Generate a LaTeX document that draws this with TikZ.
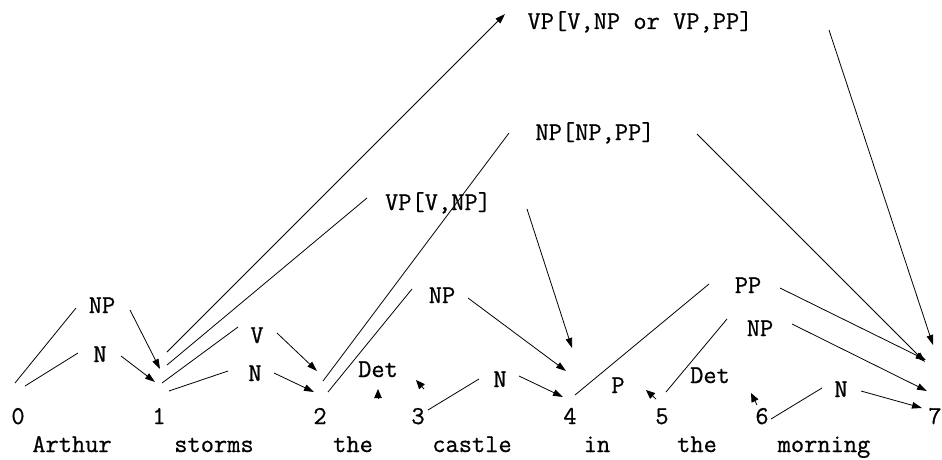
\documentclass[tikz,border=0pt]{standalone}
\usepackage{fontspec}
\setmonofont[FakeBold=0.7]{Latin Modern Mono}
\usetikzlibrary{arrows.meta}
\begin{document}
\begin{tikzpicture}[x=1pt,y=-1pt,
  lab/.style={anchor=base,inner sep=0pt,font=\ttfamily\fontsize{25.7}{30}\selectfont},
  ln/.style={line width=0.8pt},
  arr/.style={line width=0.8pt,-{Triangle[length=10pt,width=6.5pt]}},
  tip/.style={line width=0.8pt,-{Triangle[length=9pt,width=7.5pt]}}]
\useasboundingbox (0,0) rectangle (942,460);
% positions
\node[lab] (n0) at (18,424) {0};
\node[lab] (n1) at (159,424) {1};
\node[lab] (n2) at (320,424) {2};
\node[lab] (n3) at (418,424) {3};
\node[lab] (n4) at (570,424) {4};
\node[lab] (n5) at (662,424) {5};
\node[lab] (n6) at (762,424) {6};
\node[lab] (n7) at (935,424) {7};
\node[lab] (w1) at (72,452) {Arthur};
\node[lab] (w2) at (214,452) {storms};
\node[lab] (w3) at (353,452) {the};
\node[lab] (w4) at (472,452) {castle};
\node[lab] (w5) at (597,452) {in};
\node[lab] (w6) at (697,452) {the};
\node[lab] (w7) at (824,452) {morning};
% labels
\node[lab] (NPa) at (102,313) {NP};
\node[lab] (Na) at (100,362) {N};
\node[lab] (V) at (257,343) {V};
\node[lab] (Nb) at (255,381) {N};
\node[lab] (VPvnp) at (438,210) {VP[V,NP]};
\node[lab] (NPnppp) at (595,140) {NP[NP,PP]};
\node[lab] (VPtop) at (640,29) {VP[V,NP or VP,PP]};
\node[lab] (NPc) at (442,303) {NP};
\node[lab] (Det1) at (378,377) {Det};
\node[lab] (N3) at (500,387) {N};
\node[lab] (P) at (618,393) {P};
\node[lab] (PP) at (748,293) {PP};
\node[lab] (NPd) at (760,336) {NP};
\node[lab] (Det2) at (710,383) {Det};
\node[lab] (N6) at (841,397) {N};
% edges 0-1
\draw[ln] ([shift={(-3,-41)}]n0.base) -- ([shift={(-26,-5)}]NPa.base);
\draw[arr] ([shift={(28,-3)}]NPa.base) -- ([shift={(1,-55)}]n1.base);
\draw[ln] ([shift={(7,-38)}]n0.base) -- ([shift={(-22,-9)}]Na.base);
\draw[arr] ([shift={(21,-6)}]Na.base) -- ([shift={(-4,-42)}]n1.base);
% edges 1-2
\draw[ln] ([shift={(3,-41)}]n1.base) -- ([shift={(-19,-16)}]V.base);
\draw[arr] ([shift={(20,-10)}]V.base) -- ([shift={(-3,-53)}]n2.base);
\draw[ln] ([shift={(10,-33)}]n1.base) -- ([shift={(-27,-10)}]Nb.base);
\draw[arr] ([shift={(19,-8)}]Nb.base) -- ([shift={(-6,-32)}]n2.base);
% VP[V,NP] 1-4
\draw[ln] ([shift={(8,-59)}]n1.base) -- ([shift={(-71,-12)}]VPvnp.base);
\draw[arr] ([shift={(89,-1)}]VPvnp.base) -- ([shift={(2,-76)}]n4.base);
% VP[V,NP or VP,PP] 1-7
\draw[arr] ([shift={(8,-72)}]n1.base) -- ([shift={(-135,-15)}]VPtop.base);
\draw[arr] ([shift={(189,1)}]VPtop.base) -- ([shift={(-2,-79)}]n7.base);
% NP[NP,PP] 2-7
\draw[ln] ([shift={(3,-43)}]n2.base) -- ([shift={(-86,-7)}]NPnppp.base);
\draw[arr] ([shift={(102,-6)}]NPnppp.base) -- ([shift={(-10,-62)}]n7.base);
% NP 2-4
\draw[ln] ([shift={(8,-32)}]n2.base) -- ([shift={(-30,-14)}]NPc.base);
\draw[arr] ([shift={(26,-5)}]NPc.base) -- ([shift={(-4,-53)}]n4.base);
% Det 2-3
\draw[tip] ([shift={(0,22)}]Det1.base) -- ([shift={(0,12)}]Det1.base);
\draw[tip] ([shift={(6,-35)}]n3.base) -- ([shift={(-2,-44)}]n3.base);
% N 3-4
\draw[ln] ([shift={(10,-14)}]n3.base) -- ([shift={(-21,-8)}]N3.base);
\draw[arr] ([shift={(19,-11)}]N3.base) -- ([shift={(-7,-27)}]n4.base);
% PP 4-7
\draw[ln] ([shift={(5,-29)}]n4.base) -- ([shift={(-39,-9)}]PP.base);
\draw[arr] ([shift={(32,-5)}]PP.base) -- ([shift={(-9,-64)}]n7.base);
% P 4-5
\draw[tip] ([shift={(38,6)}]P.base) -- ([shift={(28,-3)}]P.base);
% NP 5-7
\draw[ln] ([shift={(4,-32)}]n5.base) -- ([shift={(-33,-17)}]NPd.base);
\draw[arr] ([shift={(32,-12)}]NPd.base) -- ([shift={(-8,-33)}]n7.base);
% Det 5-6
\draw[tip] ([shift={(-5,-19)}]n6.base) -- ([shift={(-11,-31)}]n6.base);
% N 6-7
\draw[ln] ([shift={(9,-5)}]n6.base) -- ([shift={(-19,-9)}]N6.base);
\draw[arr] ([shift={(20,-6)}]N6.base) -- ([shift={(-13,-16)}]n7.base);
\end{tikzpicture}
\end{document}
